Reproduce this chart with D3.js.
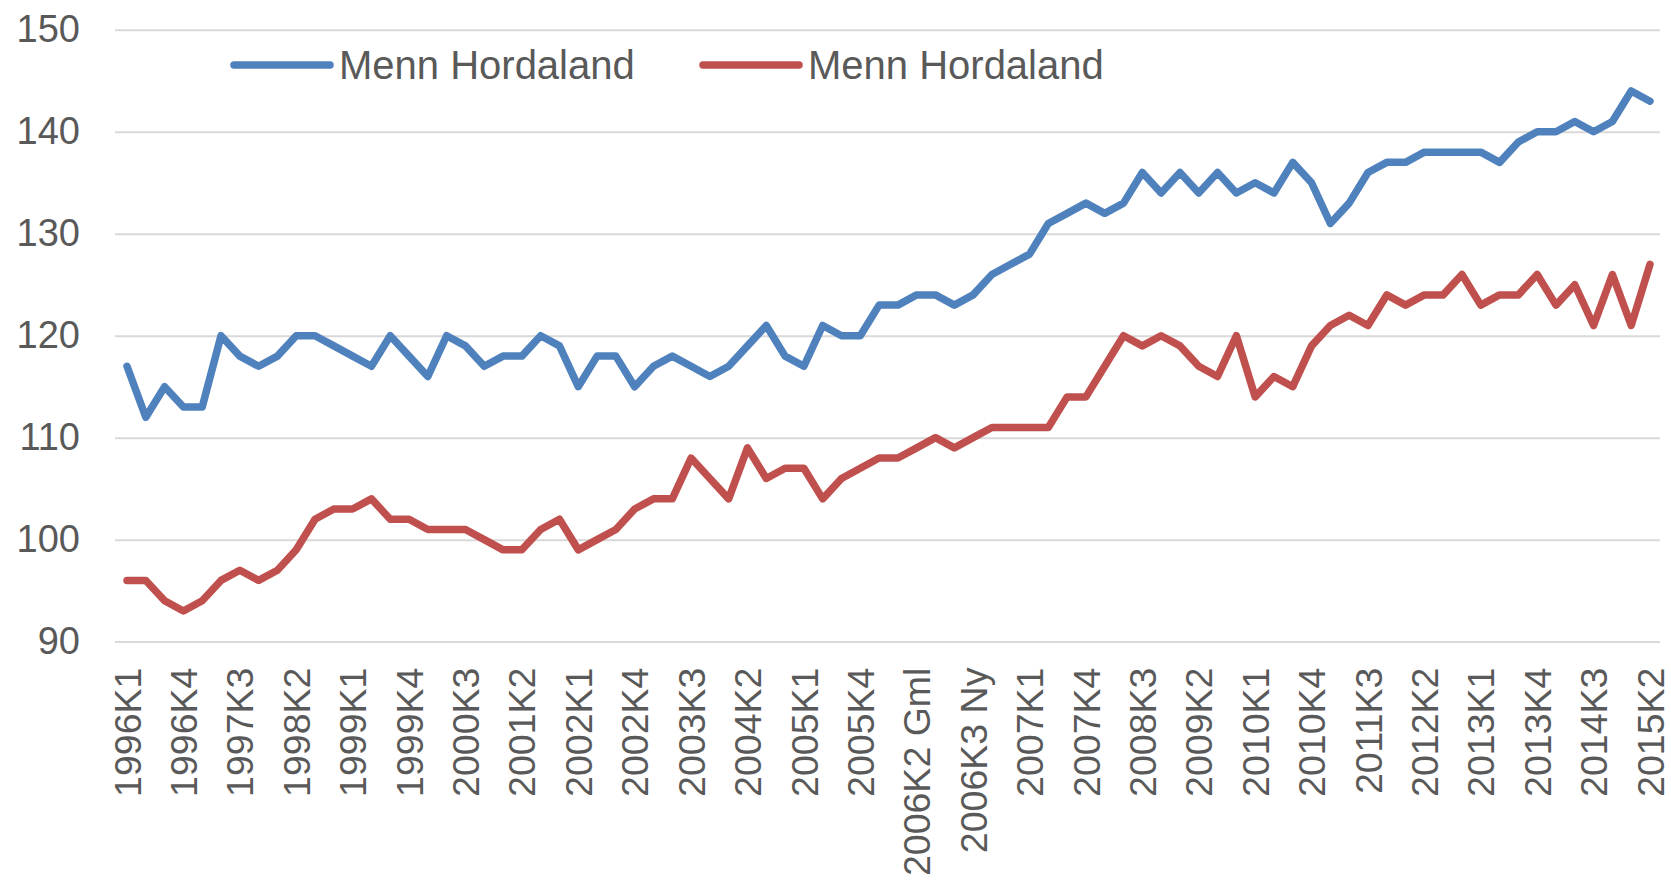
<!DOCTYPE html>
<html>
<head>
<meta charset="utf-8">
<script src="https://cdn.jsdelivr.net/npm/d3@7"></script>
<style>
  body { margin: 0; background: #fff; }
  svg { display: block; font-family: "Liberation Sans", Arial, sans-serif; }
</style>
</head>
<body>
<script>
// quarters, 2006 is split into old (Gml) and new (Ny) series
const quarters = [];
for (let y = 1996; y <= 2005; y++) for (let q = 1; q <= 4; q++) quarters.push(`${y}K${q}`);
for (let q = 1; q <= 4; q++) { quarters.push(`2006K${q} Gml`); quarters.push(`2006K${q} Ny`); }
for (let y = 2007; y <= 2015; y++) for (let q = 1; q <= 4; q++) if (!(y == 2015 && q > 2)) quarters.push(`${y}K${q}`);

const blueValues = [
  117, 112, 115, 113, 113, 120, 118, 117, 118, 120, 120, 119, 118, 117, 120,
  118, 116, 120, 119, 117, 118, 118, 120, 119, 115, 118, 118, 115, 117, 118,
  117, 116, 117, 119, 121, 118, 117, 121, 120, 120, 123, 123, 124, 124, 123,
  124, 126, 127, 128, 131, 132, 133, 132, 133, 136, 134, 136, 134, 136, 134,
  135, 134, 137, 135, 131, 133, 136, 137, 137, 138, 138, 138, 138, 137, 139,
  140, 140, 141, 140, 141, 144, 143
];
const redValues = [
  96, 96, 94, 93, 94, 96, 97, 96, 97, 99, 102, 103, 103, 104, 102,
  102, 101, 101, 101, 100, 99, 99, 101, 102, 99, 100, 101, 103, 104, 104,
  108, 106, 104, 109, 106, 107, 107, 104, 106, 107, 108, 108, 109, 110, 109,
  110, 111, 111, 111, 111, 114, 114, 117, 120, 119, 120, 119, 117, 116, 120,
  114, 116, 115, 119, 121, 122, 121, 124, 123, 124, 124, 126, 123, 124, 124,
  126, 123, 125, 121, 126, 121, 127
];
const seriesNames = ["Menn Hordaland", "Menn Hordaland"];
const seriesColors = ["#4f81bd", "#c0504d"];
const yTicks = [90, 100, 110, 120, 130, 140, 150];

const width = 1671, height = 882;
const gridLeft = 115, gridRight = 1660;

const svg = d3.select("body").append("svg")
  .attr("width", width)
  .attr("height", height);

const x = d3.scalePoint()
  .domain(quarters)
  .range([127, 1650]);

const y = d3.scaleLinear()
  .domain([90, 150])
  .range([641.6, 29.8]);

// y axis + gridlines
svg.append("g")
  .attr("transform", `translate(${gridLeft},0)`)
  .call(d3.axisLeft(y).tickValues(yTicks).tickSize(-(gridRight - gridLeft)).tickPadding(35))
  .call(g => g.select(".domain").remove())
  .call(g => g.selectAll("line").attr("stroke", "#d9d9d9").attr("stroke-width", 2))
  .call(g => g.selectAll("text").attr("fill", "#595959").style("font-size", "38px"));

// x axis, every third label
svg.append("g")
  .attr("transform", `translate(0,${y(90)})`)
  .call(d3.axisBottom(x).tickValues(quarters.filter((d, i) => i % 3 == 0)).tickSize(0))
  .call(g => g.select(".domain").remove())
  .selectAll("text")
    .attr("fill", "#595959")
    .style("font-size", "37.5px")
    .attr("transform", "rotate(-90)")
    .attr("x", -26)
    .attr("y", 0)
    .attr("dy", "0.35em")
    .style("text-anchor", "end");

const line = d3.line()
  .x((d, i) => x(quarters[i]))
  .y(d => y(d));

[blueValues, redValues].forEach((vals, k) => {
  svg.append("path")
    .datum(vals)
    .attr("fill", "none")
    .attr("stroke", seriesColors[k])
    .attr("stroke-width", 7.5)
    .attr("stroke-linejoin", "round")
    .attr("stroke-linecap", "round")
    .attr("d", line);
});

// legend
const legendX = [234, 703];
seriesNames.forEach((name, k) => {
  const g = svg.append("g").attr("transform", `translate(${legendX[k]},65)`);
  g.append("line")
    .attr("x1", 0).attr("x2", 96)
    .attr("stroke", seriesColors[k])
    .attr("stroke-width", 7.5)
    .attr("stroke-linecap", "round");
  g.append("text")
    .attr("x", 105)
    .attr("dy", "0.35em")
    .attr("fill", "#595959")
    .style("font-size", "40px")
    .text(name);
});
</script>
</body>
</html>
